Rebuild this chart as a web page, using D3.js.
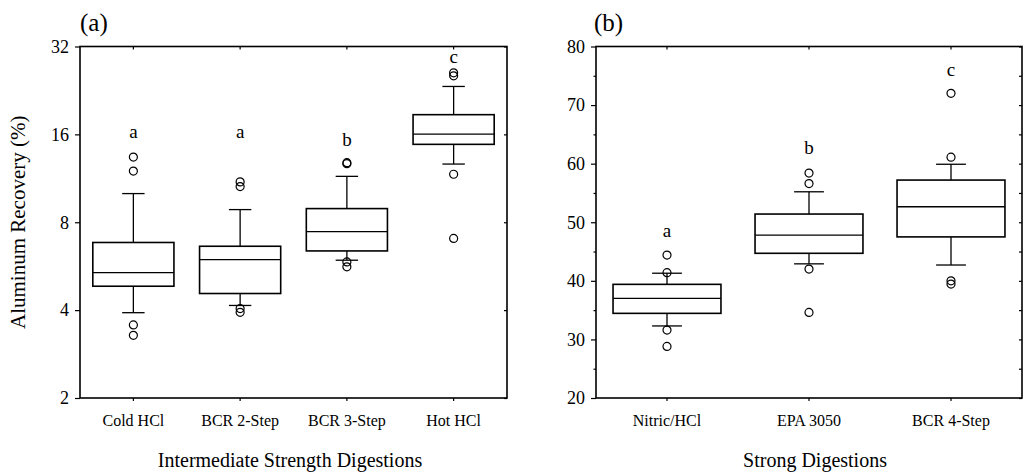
<!DOCTYPE html>
<html>
<head>
<meta charset="utf-8">
<script src="https://cdn.jsdelivr.net/npm/d3@7"></script>
<style>
    body { margin: 0; background: #fff; }
    svg { display: block; font-family: "Liberation Serif", "Times New Roman", serif; }
</style>
</head>
<body>
<script>
"use strict";

// ---- panel (a): intermediate strength digestions (log2 axis) ----
var groupsA = ["Cold HCl", "BCR 2-Step", "BCR 3-Step", "Hot HCl"];
var whiskerLowA = [3.92, 4.15, 5.93, 12.66];
var q1A = [4.83, 4.56, 6.38, 14.79];
var medianA = [5.38, 5.96, 7.43, 16.04];
var q3A = [6.82, 6.62, 8.91, 18.69];
var whiskerHighA = [10.03, 8.84, 11.49, 23.35];
var outliersA = [
    [13.38, 11.98, 3.56, 3.28],
    [11.0, 10.6, 4.05, 3.93],
    [12.8, 12.7, 5.85, 5.63],
    [26.0, 25.4, 11.68, 7.04]
];
var lettersA = ["a", "a", "b", "c"];
var letterAtA = [16.3, 16.3, 15.3, 29.4]; // in data units
var ticksA = [2, 4, 8, 16, 32];

// ---- panel (b): strong digestions (linear axis) ----
var groupsB = ["Nitric/HCl", "EPA 3050", "BCR 4-Step"];
var whiskerLowB = [32.3, 42.9, 42.7];
var q1B = [34.45, 44.7, 47.5];
var medianB = [37.0, 47.8, 52.65];
var q3B = [39.4, 51.4, 57.2];
var whiskerHighB = [41.3, 55.2, 59.9];
var outliersB = [
    [44.4, 41.4, 31.6, 28.8],
    [58.4, 56.6, 42.0, 34.6],
    [72.0, 61.1, 40.0, 39.45]
];
var lettersB = ["a", "b", "c"];
var letterAtB = [48.4, 62.6, 76.0];
var ticksB = [20, 30, 40, 50, 60, 70, 80];
var minorTicksB = [25, 35, 45, 55, 65, 75];

var width = 1025,
    height = 474,
    plotTop = 46.5,
    plotBottom = 398;

var svg = d3.select("body").append("svg")
    .attr("width", width)
    .attr("height", height);

// draws one boxplot panel
function drawPanel(x, y, groups, lo, q1, med, q3, hi, outs, letters, letterAt) {
    var g = svg.append("g");
    var bw = x.bandwidth() * 0.76,
        cw = x.bandwidth() * 0.21;

    var rows = groups.map(function (name, i) {
        return {name: name, lo: lo[i], q1: q1[i], med: med[i], q3: q3[i], hi: hi[i],
            outs: outs[i], letter: letters[i], at: letterAt[i]};
    });

    var box = g.selectAll("g.box")
        .data(rows)
        .enter().append("g")
        .attr("class", "box")
        .attr("transform", function (d) { return "translate(" + (x(d.name) + x.bandwidth() / 2) + ",0)"; });

    // whiskers
    box.append("line")
        .attr("y1", function (d) { return y(d.q3); })
        .attr("y2", function (d) { return y(d.hi); });
    box.append("line")
        .attr("y1", function (d) { return y(d.q1); })
        .attr("y2", function (d) { return y(d.lo); });
    // caps
    box.append("line")
        .attr("x1", -cw / 2).attr("x2", cw / 2)
        .attr("y1", function (d) { return y(d.hi); })
        .attr("y2", function (d) { return y(d.hi); });
    box.append("line")
        .attr("x1", -cw / 2).attr("x2", cw / 2)
        .attr("y1", function (d) { return y(d.lo); })
        .attr("y2", function (d) { return y(d.lo); });

    box.selectAll("line")
        .attr("stroke", "#000")
        .attr("stroke-width", 1.3);

    box.append("rect")
        .attr("x", -bw / 2)
        .attr("width", bw)
        .attr("y", function (d) { return y(d.q3); })
        .attr("height", function (d) { return y(d.q1) - y(d.q3); })
        .attr("fill", "#fff")
        .attr("stroke", "#000")
        .attr("stroke-width", 1.6);

    box.append("line")
        .attr("x1", -bw / 2).attr("x2", bw / 2)
        .attr("y1", function (d) { return y(d.med); })
        .attr("y2", function (d) { return y(d.med); })
        .attr("stroke", "#000")
        .attr("stroke-width", 1.3);

    box.selectAll("circle")
        .data(function (d) { return d.outs; })
        .enter().append("circle")
        .attr("cy", function (v) { return y(v); })
        .attr("r", 4)
        .attr("fill", "none")
        .attr("stroke", "#000")
        .attr("stroke-width", 1.2);

    box.append("text")
        .attr("y", function (d) { return y(d.at); })
        .attr("dy", "0.3em")
        .attr("text-anchor", "middle")
        .style("font-size", "19px")
        .text(function (d) { return d.letter; });

    return g;
}

function styleAxis(sel, size) {
    sel.select(".domain").remove();
    sel.selectAll("line").attr("stroke", "#000").attr("stroke-width", 1.2);
    sel.selectAll("text")
        .attr("fill", "#000")
        .style("font-size", size)
        .style("font-family", "Liberation Serif, Times New Roman, serif");
}

function frame(x0, x1) {
    svg.append("rect")
        .attr("x", x0).attr("y", plotTop)
        .attr("width", x1 - x0).attr("height", plotBottom - plotTop)
        .attr("fill", "none")
        .attr("stroke", "#000")
        .attr("stroke-width", 1.6);
}

// ---- panel (a) ----
var xA = d3.scaleBand().domain(groupsA).range([80, 507]).padding(0);
var yA = d3.scaleLog().base(2).domain([2, 32]).range([plotBottom, plotTop]);

svg.append("g").attr("transform", "translate(80,0)")
    .call(d3.axisLeft(yA).tickValues(ticksA).tickSize(5).tickPadding(6).tickFormat(d3.format("d")))
    .call(styleAxis, "18px");
svg.append("g").attr("transform", "translate(507,0)")
    .call(d3.axisRight(yA).tickValues(ticksA).tickSize(-3).tickFormat(""))
    .call(styleAxis, "18px");
svg.append("g").attr("transform", "translate(0," + plotTop + ")")
    .call(d3.axisTop(xA).tickSize(-3).tickFormat(""))
    .call(styleAxis, "16px");
svg.append("g").attr("transform", "translate(0," + plotBottom + ")")
    .call(d3.axisBottom(xA).tickSize(3).tickPadding(14))
    .call(styleAxis, "16px");

drawPanel(xA, yA, groupsA, whiskerLowA, q1A, medianA, q3A, whiskerHighA, outliersA, lettersA, letterAtA);
frame(80, 507);

// ---- panel (b) ----
var xB = d3.scaleBand().domain(groupsB).range([596, 1022]).padding(0);
var yB = d3.scaleLinear().domain([20, 80]).range([plotBottom, plotTop]);

svg.append("g").attr("transform", "translate(596,0)")
    .call(d3.axisLeft(yB).tickValues(ticksB).tickSize(5).tickPadding(6))
    .call(styleAxis, "18px");
svg.append("g").attr("transform", "translate(596,0)")
    .call(d3.axisLeft(yB).tickValues(minorTicksB).tickSize(2.5).tickFormat(""))
    .call(styleAxis, "18px");
svg.append("g").attr("transform", "translate(1022,0)")
    .call(d3.axisRight(yB).tickValues(ticksB.concat(minorTicksB)).tickSize(-3).tickFormat(""))
    .call(styleAxis, "18px");
svg.append("g").attr("transform", "translate(0," + plotTop + ")")
    .call(d3.axisTop(xB).tickSize(-3).tickFormat(""))
    .call(styleAxis, "16px");
svg.append("g").attr("transform", "translate(0," + plotBottom + ")")
    .call(d3.axisBottom(xB).tickSize(3).tickPadding(14))
    .call(styleAxis, "16px");

drawPanel(xB, yB, groupsB, whiskerLowB, q1B, medianB, q3B, whiskerHighB, outliersB, lettersB, letterAtB);
frame(596, 1022);

// titles and panel labels
svg.append("text")
    .attr("transform", "translate(25," + ((plotTop + plotBottom) / 2) + ") rotate(-90)")
    .attr("text-anchor", "middle")
    .style("font-size", "21px")
    .text("Aluminum Recovery (%)");

svg.append("text")
    .attr("x", 290).attr("y", 467)
    .attr("text-anchor", "middle")
    .style("font-size", "20px")
    .text("Intermediate Strength Digestions");

svg.append("text")
    .attr("x", 815).attr("y", 467)
    .attr("text-anchor", "middle")
    .style("font-size", "20px")
    .text("Strong Digestions");

svg.append("text")
    .attr("x", 80).attr("y", 31)
    .style("font-size", "25px")
    .text("(a)");

svg.append("text")
    .attr("x", 594).attr("y", 31)
    .style("font-size", "25px")
    .text("(b)");
</script>
</body>
</html>
